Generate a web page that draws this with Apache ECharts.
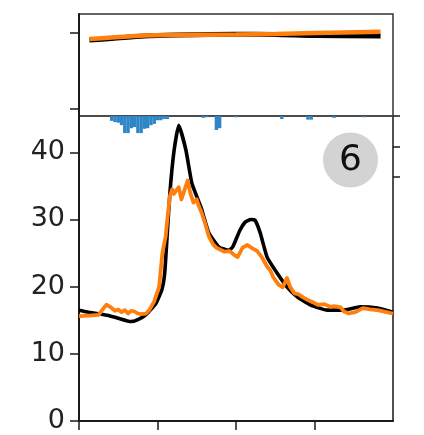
<!DOCTYPE html>
<html>
<head>
<meta charset="utf-8">
<script src="https://cdn.jsdelivr.net/npm/echarts@6/dist/echarts.min.js"></script>
<style>
html,body{margin:0;padding:0;background:#fff;}
#c{width:424px;height:435px;}
</style>
</head>
<body>
<div id="c"></div>
<script>
// ---- data (hours since start) ----
const obsHours = [0,3,6.9,9,12,15.8,18,20.4,23.5,25.3,26.2,27,27.8,29,30.5,32.7,34.5,37.3,39.7,42.8,45.8,47,49.2,50.8,52.5,53.8,55.4,57.5,60.6,63.7,66.7,70.7,75.9,80.8,86,91.3,96];
const obsValues = [16.5,16.2,15.9,15.7,15.3,14.8,15.1,15.8,17.5,19.5,22,28,34,40,44,40.3,35.4,31.8,28,25.9,25.4,25.9,28.4,29.6,30.0,29.9,28,24.4,22,19.9,18.5,17.3,16.5,16.5,17.0,16.8,16.2];

const simHours = [0,3,6,7.5,8.4,9.5,11,12,13,14,15,16,17,18,19,20.5,21.5,23,24.5,25.5,26.5,27,27.8,28.5,29,29.5,30.5,31.3,32,33.2,34,35,36,36.5,37.5,38.5,39.7,41,42,42.8,44.5,46,47.5,48.5,50,51.5,53,54.5,56,57.5,58.5,59.4,61,62.3,63.6,64.5,65.8,67,68.5,70,71,73,75,76.8,78,80,81,82.5,84.5,86.8,89,91.3,94,96];
const simValues = [15.6,15.7,15.8,16.8,17.3,17.0,16.4,16.6,16.2,16.5,16.0,16.4,16.3,16.0,15.9,16.0,16.5,17.8,20,25,27.5,30,33.5,34.5,33.8,34,34.8,33,34,35.8,34,32.5,33,32.2,31,29.5,27.5,26.3,25.8,25.6,25.2,25.3,24.7,24.4,25.8,26.2,25.7,25.3,24.3,23,22.4,21.4,20.3,19.9,21.3,20.0,19,18.9,18.4,18.0,17.8,17.3,17.4,17.0,17.1,16.9,16.3,16.0,16.2,16.8,16.6,16.5,16.2,16.0];

const rainHours = [10,11,12,13,14,15,16,17,18,19,20,21,22,23,24,25,26,27,38,39,42,43,48,62,70,71,78,87];
const rainValues = [0.8,1.0,1.1,1.5,2.8,2.8,2.0,1.8,2.8,2.8,2.1,2.0,1.5,1.3,0.7,0.7,0.5,0.5,0.3,0.2,2.3,2.0,0.2,0.5,0.6,0.6,0.3,0.2];

const topHours = [3.2,10,20,30,48,60,72,92.2];
const topSim = [0.917,0.937,0.963,0.970,0.976,0.983,0.996,1.012];
const topObs = [0.905,0.924,0.957,0.970,0.979,0.976,0.963,0.957];

const xTicks = [0,24,48,72];
const yTicks = [0,10,20,30,40];
const rainTicks = [0,5,10];
const topTicks = [0,1];
const panelLabel = '6';

const pairs = (xs, ys) => xs.map((x,i)=>[x, ys[i]]);
const FONT = 'DejaVu Sans';
const dark = '#1a1a1a';

const chart = echarts.init(document.getElementById('c'), null, {renderer:'canvas'});
chart.setOption({
  animation:false,
  backgroundColor:'#fff',
  grid:[
    {left:79, top:14, width:314, height:102, show:true, borderColor:'#333', borderWidth:1.5, backgroundColor:'transparent'},
    {left:79, top:116, width:314, height:305, show:true, borderColor:'#444', borderWidth:1.5, backgroundColor:'transparent'}
  ],
  xAxis:[
    {gridIndex:0, type:'value', min:0, max:96, show:false},
    {gridIndex:1, type:'value', min:0, max:96, position:'bottom',
      axisLine:{show:true, onZero:false, lineStyle:{color:dark, width:2}},
      axisTick:{show:true, length:9, customValues:xTicks, lineStyle:{color:dark, width:1.5}},
      axisLabel:{show:false}, splitLine:{show:false}}
  ],
  yAxis:[
    {gridIndex:0, type:'value', min:-0.092, max:1.245, position:'left',
      axisLine:{show:true, onZero:false, lineStyle:{color:dark, width:2}},
      axisTick:{show:true, length:9, customValues:topTicks, lineStyle:{color:dark, width:1.5}},
      axisLabel:{show:false}, splitLine:{show:false}},
    {gridIndex:1, type:'value', min:0, max:45.4, position:'left',
      axisLine:{show:true, onZero:false, lineStyle:{color:dark, width:2}},
      axisTick:{show:true, length:9, customValues:yTicks, lineStyle:{color:dark, width:1.5}},
      axisLabel:{show:true, customValues:yTicks, margin:14, fontFamily:FONT, fontSize:27, color:'#222'},
      splitLine:{show:false}},
    {gridIndex:1, type:'value', min:0, max:50, inverse:true, position:'right',
      axisLine:{show:true, onZero:false, lineStyle:{color:'#444', width:1.5}},
      axisTick:{show:true, length:7, customValues:rainTicks, lineStyle:{color:dark, width:1.5}},
      axisLabel:{show:false}, splitLine:{show:false}}
  ],
  series:[
    {type:'bar', xAxisIndex:1, yAxisIndex:2, data:pairs(rainHours, rainValues), barWidth:3.4,
      itemStyle:{color:'#2f86c6'}, silent:true},
    {type:'line', xAxisIndex:0, yAxisIndex:0, data:pairs(topHours, topObs), showSymbol:false, smooth:0.3,
      lineStyle:{color:'#000', width:5}},
    {type:'line', xAxisIndex:0, yAxisIndex:0, data:pairs(topHours, topSim), showSymbol:false, smooth:0.3,
      lineStyle:{color:'#ff7f0e', width:4.5}},
    {type:'line', xAxisIndex:1, yAxisIndex:1, data:pairs(obsHours, obsValues), showSymbol:false, smooth:0.15,
      lineStyle:{color:'#000', width:3.6}},
    {type:'line', xAxisIndex:1, yAxisIndex:1, data:pairs(simHours, simValues), showSymbol:false,
      lineStyle:{color:'#ff7f0e', width:3.8, join:'round'}}
  ],
  graphic:[
    {type:'circle', shape:{cx:350.5, cy:160, r:27.5}, style:{fill:'#d3d3d3'}, z:10},
    {type:'text', x:350.5, y:161, style:{text:panelLabel, fontFamily:FONT, fontSize:36, fill:'#111', align:'center', verticalAlign:'middle'}, z:11}
  ]
});
</script>
</body>
</html>
